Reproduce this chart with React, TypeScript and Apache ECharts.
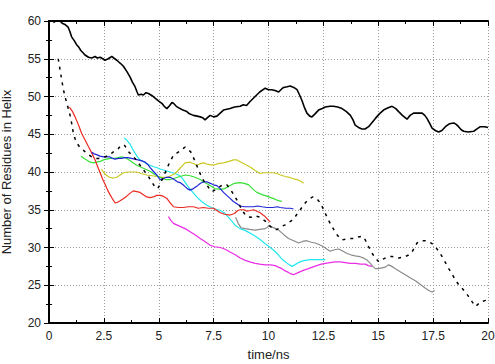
import React, { useEffect, useRef } from "react";
import * as echarts from "echarts";

// Helix residue counts over simulation time, one trajectory per array: [time (ns), residues]
const mainTrace: number[][] = [
  [0.2, 59.8], [0.35, 60.1], [0.5, 60.0], [0.6, 59.7], [0.75, 59.5], [0.87, 59.2], [0.95, 58.6], [1.03, 57.9],
  [1.15, 57.4], [1.25, 56.9], [1.34, 56.6], [1.45, 56.1], [1.55, 55.8], [1.64, 55.5], [1.8, 55.2], [1.95, 55.1],
  [2.1, 55.3], [2.2, 55.1], [2.33, 55.2], [2.45, 55.0], [2.55, 54.8], [2.7, 55.0], [2.86, 55.3], [2.95, 55.1],
  [3.09, 54.8], [3.25, 54.4], [3.39, 54.0], [3.55, 53.3], [3.69, 52.6], [3.8, 51.9], [3.92, 51.3], [4.0, 50.7],
  [4.07, 50.2], [4.2, 50.3], [4.3, 50.2], [4.42, 50.5], [4.53, 50.4], [4.7, 50.1], [4.83, 49.8], [5.0, 49.4],
  [5.14, 49.1], [5.25, 48.7], [5.37, 48.4], [5.5, 48.8], [5.6, 49.2], [5.67, 49.1], [5.8, 48.7], [5.97, 48.4],
  [6.1, 48.2], [6.28, 48.0], [6.4, 47.7], [6.58, 47.5], [6.75, 47.4], [6.89, 47.3], [7.0, 47.2], [7.11, 46.9],
  [7.22, 47.2], [7.34, 47.5], [7.5, 47.3], [7.65, 47.4], [7.8, 47.8], [7.95, 48.2], [8.1, 48.3], [8.25, 48.4],
  [8.45, 48.6], [8.71, 48.7], [8.85, 48.9], [9.0, 48.8], [9.15, 49.3], [9.39, 50.0], [9.6, 50.6], [9.85, 51.1],
  [10.0, 50.9], [10.15, 50.9], [10.3, 50.8], [10.46, 50.6], [10.6, 51.0], [10.69, 51.2], [10.85, 51.3], [10.99, 51.4],
  [11.15, 51.2], [11.3, 50.9], [11.4, 50.3], [11.52, 49.5], [11.63, 48.6], [11.75, 47.8], [11.88, 47.4], [11.98, 47.3],
  [12.12, 47.7], [12.28, 48.2], [12.45, 48.4], [12.59, 48.6], [12.8, 48.7], [12.96, 48.7], [13.15, 48.6], [13.35, 48.4],
  [13.55, 48.0], [13.73, 47.5], [13.85, 46.9], [13.95, 46.2], [14.1, 45.9], [14.26, 45.7], [14.4, 45.7], [14.56, 46.0],
  [14.7, 46.5], [14.87, 47.1], [15.05, 47.7], [15.24, 48.2], [15.45, 48.5], [15.63, 48.7], [15.8, 48.4], [15.93, 48.0],
  [16.1, 47.5], [16.31, 47.0], [16.45, 47.5], [16.61, 47.8], [16.8, 47.8], [17.0, 47.8], [17.12, 47.5], [17.22, 47.1],
  [17.35, 46.4], [17.45, 45.8], [17.6, 45.5], [17.75, 45.3], [17.9, 45.5], [18.06, 46.0], [18.25, 46.4], [18.44, 46.5],
  [18.55, 46.3], [18.66, 46.0], [18.78, 45.6], [18.89, 45.4], [19.1, 45.3], [19.35, 45.4], [19.5, 45.7], [19.65, 46.0],
  [19.85, 46.0], [20.0, 45.9],
];

const dashedTrace: number[][] = [
  [0.42, 55.0], [0.5, 53.6], [0.58, 52.2], [0.65, 51.0], [0.73, 50.0], [0.85, 48.7], [0.96, 47.5], [1.05, 46.2],
  [1.11, 45.1], [1.2, 44.3], [1.3, 43.7], [1.45, 43.1], [1.56, 42.9], [1.75, 42.4], [1.95, 42.0], [2.1, 41.8],
  [2.25, 41.8], [2.4, 41.9], [2.55, 42.0], [2.7, 42.2], [2.86, 42.5], [3.0, 42.8], [3.16, 43.1], [3.3, 43.6],
  [3.45, 43.5], [3.62, 42.7], [3.78, 42.2], [3.92, 41.8], [4.07, 41.2], [4.2, 40.7], [4.35, 40.1], [4.53, 39.4],
  [4.68, 38.7], [4.83, 38.0], [4.95, 37.8], [5.05, 38.3], [5.2, 39.3], [5.35, 40.3], [5.5, 41.3], [5.67, 42.2],
  [5.82, 42.5], [5.97, 42.8], [6.1, 43.1], [6.2, 43.3], [6.32, 43.0], [6.45, 42.7], [6.58, 41.9], [6.7, 41.1],
  [6.81, 40.3], [6.96, 39.3], [7.08, 38.7], [7.19, 38.3], [7.3, 37.8], [7.42, 37.4], [7.55, 37.6], [7.65, 37.8],
  [7.8, 38.1], [7.9, 38.3], [8.1, 38.3], [8.22, 37.9], [8.33, 37.4], [8.45, 36.8], [8.56, 36.3], [8.68, 35.6],
  [8.79, 35.0], [8.9, 34.5], [9.01, 34.1], [9.2, 34.0], [9.39, 34.2], [9.62, 34.0], [9.85, 33.5], [10.05, 32.9],
  [10.23, 32.4], [10.38, 32.4], [10.46, 32.5], [10.6, 32.8], [10.76, 33.0], [10.9, 33.3], [11.07, 33.6], [11.22, 34.1],
  [11.37, 34.7], [11.52, 35.3], [11.67, 35.9], [11.8, 36.3], [11.9, 36.5], [12.02, 36.7], [12.13, 36.6], [12.25, 36.3],
  [12.36, 35.9], [12.48, 35.2], [12.59, 34.5], [12.7, 33.8], [12.81, 33.2], [12.97, 32.4], [13.12, 31.7], [13.23, 31.3],
  [13.35, 31.0], [13.5, 31.1], [13.65, 31.2], [13.8, 31.2], [13.95, 31.2], [14.1, 31.4], [14.26, 31.5], [14.34, 31.3],
  [14.41, 31.0], [14.52, 30.3], [14.64, 29.7], [14.75, 29.1], [14.87, 28.6], [15.02, 28.1], [15.17, 28.4], [15.32, 28.6],
  [15.48, 28.8], [15.63, 28.8], [15.78, 28.7], [15.93, 28.6], [16.08, 28.7], [16.23, 28.8], [16.38, 29.0], [16.54, 29.4],
  [16.65, 30.0], [16.77, 30.6], [16.88, 30.8], [17.0, 30.9], [17.15, 30.9], [17.3, 30.8], [17.45, 30.5], [17.6, 30.1],
  [17.75, 29.5], [17.91, 28.8], [18.06, 28.0], [18.21, 27.2], [18.36, 26.5], [18.51, 25.7], [18.66, 25.1], [18.82, 24.6],
  [18.97, 24.1], [19.12, 23.5], [19.28, 22.8], [19.43, 22.2], [19.55, 22.5], [19.65, 22.8], [19.8, 22.9], [19.88, 23.0],
  [20.0, 23.3],
];

const redTrace: number[][] = [
  [0.93, 48.6], [1.05, 48.1], [1.19, 47.3], [1.35, 46.2], [1.49, 45.1], [1.65, 44.2], [1.79, 43.4], [1.95, 42.5],
  [2.1, 41.6], [2.22, 40.7], [2.33, 39.9], [2.45, 39.0], [2.55, 38.4], [2.67, 37.6], [2.78, 37.0], [2.9, 36.4],
  [3.01, 35.9], [3.12, 36.0], [3.24, 36.2], [3.4, 36.5], [3.54, 36.8], [3.7, 37.2], [3.84, 37.5], [4.0, 37.4],
  [4.15, 37.3], [4.3, 37.0], [4.45, 36.7], [4.6, 36.6], [4.76, 36.7], [4.9, 36.9], [5.06, 36.9], [5.2, 36.8],
  [5.37, 36.5], [5.52, 35.9], [5.67, 35.4], [5.9, 35.3], [6.12, 35.3], [6.35, 35.4], [6.58, 35.4], [6.8, 35.2],
  [7.04, 35.3], [7.25, 35.2], [7.49, 35.2], [7.65, 34.9], [7.8, 34.6], [8.0, 34.4], [8.25, 34.3], [8.45, 34.5],
  [8.6, 34.9], [8.71, 35.0], [8.9, 35.0], [9.01, 34.8], [9.17, 34.9], [9.32, 35.0], [9.47, 34.8], [9.62, 34.6],
  [9.75, 34.3], [9.85, 34.1], [9.97, 33.7], [10.08, 33.4],
];

const greenTrace: number[][] = [
  [1.46, 42.1], [1.6, 41.8], [1.72, 41.6], [1.87, 41.3], [2.02, 41.2], [2.17, 41.3], [2.33, 41.4], [2.48, 41.6],
  [2.63, 41.7], [2.8, 41.8], [3.01, 41.8], [3.15, 41.9], [3.31, 42.0], [3.45, 41.9], [3.54, 41.8], [3.7, 41.5],
  [3.84, 41.2], [4.0, 40.9], [4.15, 40.7], [4.3, 40.5], [4.45, 40.3], [4.6, 40.1], [4.8, 39.7], [5.06, 39.3],
  [5.3, 39.0], [5.52, 39.0], [5.75, 39.2], [5.97, 39.4], [6.2, 39.6], [6.43, 39.5], [6.65, 39.3], [6.89, 39.0],
  [7.1, 38.6], [7.34, 38.2], [7.55, 37.8], [7.8, 37.7], [8.0, 37.8], [8.25, 38.2], [8.45, 38.5], [8.7, 38.6],
  [8.9, 38.5], [9.1, 38.3], [9.3, 37.7], [9.47, 37.3], [9.7, 37.0], [9.93, 36.8], [10.1, 36.6], [10.3, 36.4],
  [10.45, 36.2], [10.61, 36.1],
];

const blueTrace: number[][] = [
  [1.95, 42.6], [2.06, 42.4], [2.17, 42.3], [2.32, 42.1], [2.48, 42.0], [2.63, 42.0], [2.78, 42.0], [2.9, 41.8],
  [3.01, 41.7], [3.16, 41.8], [3.31, 41.8], [3.45, 41.9], [3.6, 41.9], [3.75, 41.8], [3.9, 41.7], [4.05, 41.6],
  [4.2, 41.5], [4.38, 41.3], [4.5, 41.0], [4.6, 40.6], [4.75, 40.1], [4.91, 39.6], [5.06, 39.0], [5.2, 39.1],
  [5.35, 39.3], [5.52, 39.3], [5.7, 39.0], [5.85, 38.7], [5.97, 38.6], [6.15, 38.2], [6.3, 37.8], [6.43, 37.6],
  [6.58, 37.8], [6.73, 38.1], [6.9, 38.5], [7.05, 38.7], [7.19, 38.7], [7.35, 38.5], [7.49, 38.3], [7.65, 38.2],
  [7.8, 37.8], [7.95, 37.3], [8.1, 36.9], [8.25, 36.5], [8.4, 36.1], [8.56, 35.8], [8.71, 35.5], [8.9, 35.4],
  [9.1, 35.4], [9.32, 35.4], [9.5, 35.5], [9.7, 35.4], [9.93, 35.3], [10.2, 35.3], [10.4, 35.4], [10.53, 35.3],
  [10.8, 35.2], [11.0, 35.2], [11.14, 35.1],
];

const cyanTrace: number[][] = [
  [3.43, 44.5], [3.55, 44.2], [3.69, 43.7], [3.8, 43.1], [3.92, 42.5], [4.03, 42.0], [4.15, 41.6], [4.3, 41.4],
  [4.45, 41.1], [4.6, 40.9], [4.76, 40.7], [4.9, 40.6], [5.06, 40.4], [5.3, 40.2], [5.52, 40.0], [5.75, 39.8],
  [5.97, 39.5], [6.12, 39.0], [6.28, 38.3], [6.5, 37.5], [6.73, 36.7], [6.95, 36.1], [7.19, 35.6], [7.4, 35.3],
  [7.57, 35.1], [7.8, 34.9], [8.03, 34.5], [8.3, 33.6], [8.5, 32.9], [8.7, 32.5], [8.9, 32.3], [9.1, 32.0],
  [9.35, 31.6], [9.6, 31.1], [9.85, 30.5], [10.08, 30.0], [10.25, 29.6], [10.46, 29.0], [10.6, 28.5], [10.76, 28.1],
  [10.9, 27.8], [11.07, 27.5], [11.2, 27.7], [11.37, 28.0], [11.52, 28.2], [11.67, 28.3], [11.9, 28.4], [12.13, 28.4],
  [12.35, 28.4], [12.59, 28.4],
];

const magentaTrace: number[][] = [
  [5.44, 34.1], [5.55, 33.6], [5.67, 33.2], [5.82, 33.0], [5.97, 32.8], [6.2, 32.5], [6.43, 32.1], [6.65, 31.7],
  [6.89, 31.2], [7.1, 30.8], [7.34, 30.3], [7.55, 30.1], [7.8, 30.0], [8.0, 29.8], [8.25, 29.4], [8.5, 29.0],
  [8.71, 28.6], [8.94, 28.3], [9.15, 28.1], [9.39, 27.9], [9.6, 27.8], [9.85, 27.7], [10.1, 27.7], [10.3, 27.6],
  [10.45, 27.4], [10.61, 27.2], [10.76, 26.9], [10.91, 26.7], [11.03, 26.5], [11.14, 26.4], [11.3, 26.6], [11.45, 26.8],
  [11.62, 27.0], [11.82, 27.2], [12.0, 27.4], [12.2, 27.6], [12.4, 27.8], [12.59, 27.9], [12.8, 28.0], [13.04, 28.1],
  [13.25, 28.1], [13.5, 28.0], [13.72, 27.9], [13.95, 27.9], [14.2, 27.8], [14.41, 27.8], [14.55, 27.6], [14.71, 27.5],
];

const yellowTrace: number[][] = [
  [2.38, 40.4], [2.48, 40.0], [2.6, 39.6], [2.75, 39.3], [2.93, 39.2], [3.08, 39.3], [3.24, 39.6], [3.39, 39.9],
  [3.6, 40.0], [3.8, 40.0], [4.0, 40.0], [4.2, 39.8], [4.45, 39.6], [4.7, 39.5], [4.91, 39.4], [5.15, 39.3],
  [5.37, 39.3], [5.55, 39.5], [5.75, 39.8], [5.97, 40.5], [6.1, 40.9], [6.2, 41.2], [6.43, 41.3], [6.6, 41.1],
  [6.73, 40.9], [6.89, 41.1], [7.04, 41.2], [7.25, 41.0], [7.49, 40.9], [7.7, 41.1], [7.95, 41.2], [8.2, 41.4],
  [8.4, 41.6], [8.56, 41.6], [8.75, 41.3], [9.01, 40.9], [9.2, 40.6], [9.39, 40.2], [9.62, 39.8], [9.8, 39.9],
  [10.0, 39.9], [10.2, 39.9], [10.38, 39.8], [10.55, 39.6], [10.76, 39.4], [10.95, 39.3], [11.14, 39.1], [11.3, 39.0],
  [11.45, 38.8], [11.6, 38.5],
];

const grayTrace: number[][] = [
  [8.5, 34.0], [8.62, 33.2], [8.75, 32.6], [8.94, 32.5], [9.15, 32.4], [9.39, 32.3], [9.6, 32.4], [9.85, 32.5],
  [10.0, 32.8], [10.08, 32.8], [10.25, 32.6], [10.46, 32.3], [10.7, 31.7], [10.91, 31.2], [11.15, 30.9], [11.37, 30.6],
  [11.55, 30.8], [11.75, 30.9], [11.95, 30.7], [12.13, 30.6], [12.3, 30.4], [12.51, 30.1], [12.65, 29.8], [12.81, 29.5],
  [13.0, 29.7], [13.2, 29.8], [13.4, 29.5], [13.58, 29.2], [13.78, 29.0], [13.95, 28.9], [14.15, 28.8], [14.33, 28.6],
  [14.5, 28.3], [14.64, 27.9], [14.75, 27.5], [14.87, 27.2], [15.02, 27.2], [15.17, 27.3], [15.32, 27.4], [15.47, 27.7],
  [15.62, 27.5], [15.78, 27.2], [16.0, 26.8], [16.23, 26.4], [16.45, 26.0], [16.69, 25.6], [16.92, 25.1], [17.15, 24.6],
  [17.3, 24.3], [17.45, 24.1], [17.57, 24.3],
];

const FONT = "'Liberation Sans', Arial, Helvetica, sans-serif";

function lineSeries(data: number[][], color: string, width: number, type: any = "solid") {
  return {
    type: "line",
    data,
    showSymbol: false,
    symbol: "none",
    smooth: false,
    silent: true,
    lineStyle: { color, width, type },
    z: 3,
  };
}

export default function App() {
  const ref = useRef<HTMLDivElement>(null);

  useEffect(() => {
    if (!ref.current) return;
    const chart = echarts.init(ref.current, undefined, { renderer: "svg" });

    const gridDots = { show: true, lineStyle: { color: "#9a9a9a", width: 1, type: [1, 2] as any } };
    const ticks = { show: true, inside: true, length: 5, lineStyle: { color: "#000", width: 1 } };
    const minor = { show: true, splitNumber: 2, length: 3, lineStyle: { color: "#000", width: 1 } };
    const label = { color: "#222", fontSize: 12, fontFamily: FONT };
    const frame = { show: true, lineStyle: { color: "#000", width: 2 } };

    chart.setOption({
      animation: false,
      backgroundColor: "#fff",
      grid: {
        left: 49,
        right: 7,
        top: 21,
        bottom: 41,
        containLabel: false,
        outerBoundsMode: "none",
      },
      xAxis: [
        {
          type: "value",
          min: 0,
          max: 20,
          interval: 2.5,
          position: "bottom",
          name: "time/ns",
          nameLocation: "middle",
          nameGap: 25,
          nameTextStyle: { color: "#222", fontSize: 13, fontFamily: FONT },
          axisLine: frame,
          axisTick: ticks,
          minorTick: minor,
          splitLine: gridDots,
          axisLabel: { ...label, margin: 7 },
        },
        {
          type: "value",
          min: 0,
          max: 20,
          interval: 2.5,
          position: "top",
          axisLine: frame,
          axisTick: ticks,
          minorTick: minor,
          splitLine: { show: false },
          axisLabel: { show: false },
        },
      ],
      yAxis: [
        {
          type: "value",
          min: 20,
          max: 60,
          interval: 5,
          position: "left",
          name: "Number of Residues in Helix",
          nameLocation: "middle",
          nameGap: 36,
          nameTextStyle: { color: "#222", fontSize: 13, fontFamily: FONT },
          axisLine: frame,
          axisTick: ticks,
          minorTick: minor,
          splitLine: gridDots,
          axisLabel: { ...label, margin: 8 },
        },
        {
          type: "value",
          min: 20,
          max: 60,
          interval: 5,
          position: "right",
          axisLine: frame,
          axisTick: ticks,
          minorTick: minor,
          splitLine: { show: false },
          axisLabel: { show: false },
        },
      ],
      series: [
        lineSeries(grayTrace, "#8a8a8a", 1.2),
        lineSeries(magentaTrace, "#ea2ce6", 1.2),
        lineSeries(cyanTrace, "#22e8ee", 1.2),
        lineSeries(yellowTrace, "#c9c922", 1.2),
        lineSeries(greenTrace, "#35e035", 1.2),
        lineSeries(redTrace, "#ec2a22", 1.2),
        lineSeries(blueTrace, "#1f25d6", 1.2),
        lineSeries(dashedTrace, "#000", 1.5, [3, 5]),
        lineSeries(mainTrace, "#000", 1.6),
      ],
    });

    return () => chart.dispose();
  }, []);

  return (
    <div
      ref={ref}
      style={{ position: "absolute", left: 0, top: 0, width: 495, height: 364, background: "#fff" }}
    />
  );
}
